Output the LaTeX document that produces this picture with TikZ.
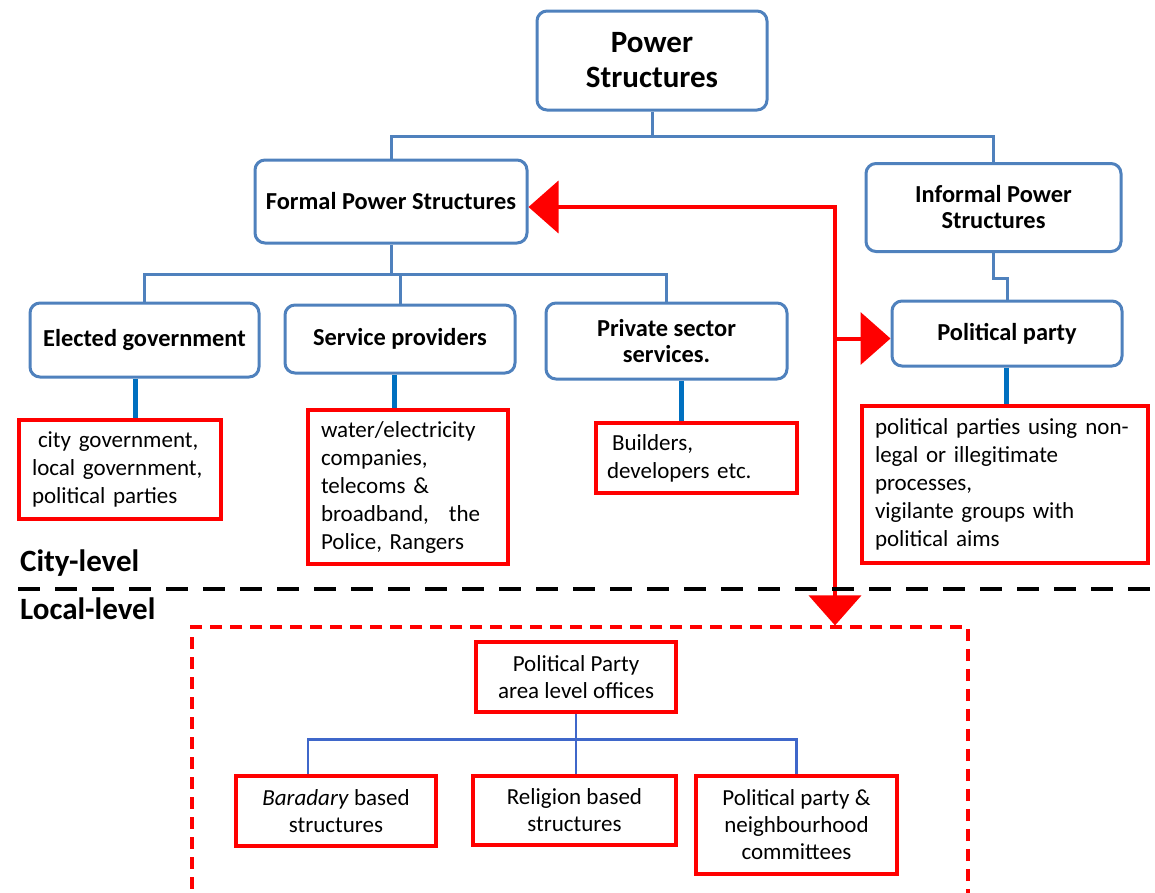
\documentclass[tikz,border=0pt]{standalone}
\usepackage{fontspec}
\setmainfont{Carlito}
\usetikzlibrary{arrows.meta}
\definecolor{sblue}{HTML}{4F81BD}
\definecolor{dblue}{HTML}{0070C0}
\definecolor{pred}{HTML}{FF0000}
\begin{document}
\begin{tikzpicture}[x=1pt,y=-1pt,
  box/.style={draw=sblue, line width=3pt, rounded corners=10pt, fill=white, align=center,
              inner sep=0pt, font=\bfseries\fontsize{24.4}{26}\selectfont},
  note/.style={draw=pred, line width=3.2pt, inner sep=0pt, fill=white},
  lnote/.style={note, align=left, inner xsep=13pt, font=\fontsize{23}{28}\selectfont},
  cnote/.style={note, align=center, font=\fontsize{23}{27}\selectfont},
  link/.style={draw=sblue, line width=3pt},
  sublink/.style={draw=sblue!80!blue, line width=2.6pt},
  stem/.style={draw=dblue, line width=5pt},
  flow/.style={draw=pred, line width=4pt},
  bigtip/.tip={Triangle[length=30pt,width=52pt]},
  level/.style={anchor=west, inner sep=0pt, font=\bfseries\fontsize{31}{34}\selectfont}
]
\useasboundingbox (0,0) rectangle (1155,892);
\clip (0,0) rectangle (1155,892);

% local-level frame
\node[draw=pred, line width=3.2pt, dash pattern=on 12pt off 8pt, minimum width=776pt,
      minimum height=278pt, inner sep=0pt] (lbox) at (580,766) {};

% city-level hierarchy
\node[box, minimum width=230pt, minimum height=99pt, font=\bfseries\fontsize{31}{35}\selectfont]
  (ps) at (652,60.5) {Power\\Structures};
\node[box, minimum width=272pt, minimum height=83pt] (fps) at (391,201.5) {Formal Power Structures};
\node[box, minimum width=255pt, minimum height=88pt] (ips) at (993.5,207.5) {Informal Power\\Structures};
\node[box, minimum width=229pt, minimum height=74pt] (eg) at (144.5,340) {Elected government};
\node[box, minimum width=230pt, minimum height=68pt] (sp) at (400,339) {Service providers};
\node[box, minimum width=241pt, minimum height=76pt] (pss) at (666.5,341) {Private sector\\services.};
\node[box, minimum width=230pt, minimum height=65pt] (pp) at (1007,333.5) {Political party};

% examples under each structure
\node[lnote, text width=176pt, minimum height=99pt] (rb1) at (120,469.5)
  {\hspace*{6pt}city government,\\local government,\\political parties};
\node[lnote, text width=174pt, minimum height=154pt] (rb2) at (408,487)
  {water/electricity\\companies,\\telecoms \&\\broadband,\hspace{20pt}the\\Police, Rangers};
\node[lnote, inner xsep=11pt, text width=179pt, minimum height=70pt] (rb3) at (696.5,458)
  {\hspace*{5pt}Builders,\\developers etc.};
\node[lnote, text width=260pt, minimum height=157pt] (rb4) at (1005,484.5)
  {political parties using\hspace{8pt}non-\\legal or illegitimate\\processes,\\vigilante groups with\\political aims};

% local-level structures
\node[cnote, minimum width=200pt, minimum height=70pt] (ppo) at (576,677) {Political Party\\area level offices};
\node[cnote, minimum width=200pt, minimum height=70pt] (bar) at (336,811) {\textit{Baradary} based\\structures};
\node[cnote, minimum width=203pt, minimum height=69pt] (rel) at (574.5,810.5) {Religion based\\structures};
\node[cnote, minimum width=201pt, minimum height=98pt] (ppn) at (796.5,825) {Political party \&\\neighbourhood\\committees};

% tree connectors
\coordinate (j0) at ([yshift=-25pt]ps.south);
\draw[link] (ps.south) -- (j0);
\draw[link] (fps.north) |- (j0) -| (ips.north);
\coordinate (j1) at ([yshift=-30pt]fps.south);
\draw[link] (fps.south) -- (j1);
\draw[link] (eg.north) |- (j1) -| (pss.north);
\draw[link] (sp.north) -- (sp.north |- j1);
\draw[link] (ips.south) -- ++(0,25) -| (pp.north);

% links to examples
\draw[stem] ([xshift=-9.5pt]eg.south) -- ([xshift=-9.5pt]eg.south |- rb1.north);
\draw[stem] ([xshift=-6pt]sp.south) -- ([xshift=-6pt]sp.south |- rb2.north);
\draw[stem] ([xshift=14.5pt]pss.south) -- ([xshift=14.5pt]pss.south |- rb3.north);
\draw[stem] ([xshift=-1pt]pp.south) -- ([xshift=-1pt]pp.south |- rb4.north);

% local tree
\coordinate (j2) at ([yshift=-26pt]ppo.south);
\draw[sublink] (ppo.south) -- (ppo.south |- rel.north);
\draw[sublink] ([xshift=-28pt]bar.north) |- (j2) -| (ppn.north);

% party influence arrows
\coordinate (rc) at (835,207);
\draw[flow, bigtip-bigtip] (rc -| fps.east) -- (rc) -- (rc |- lbox.north);
\coordinate (ppw) at ([yshift=-5pt]pp.west);
\draw[flow, -bigtip] (ppw -| rc) -- (ppw);

% level separator
\coordinate (sepL) at (18,589);
\coordinate (sepR) at (1155,589);
\draw[line width=4pt, dash pattern=on 22pt off 15pt] (sepL) -- (sepR);
\node[level] (city) at (20,563) {City-level};
\node[level] (local) at (20,609) {Local-level};
\end{tikzpicture}
\end{document}
